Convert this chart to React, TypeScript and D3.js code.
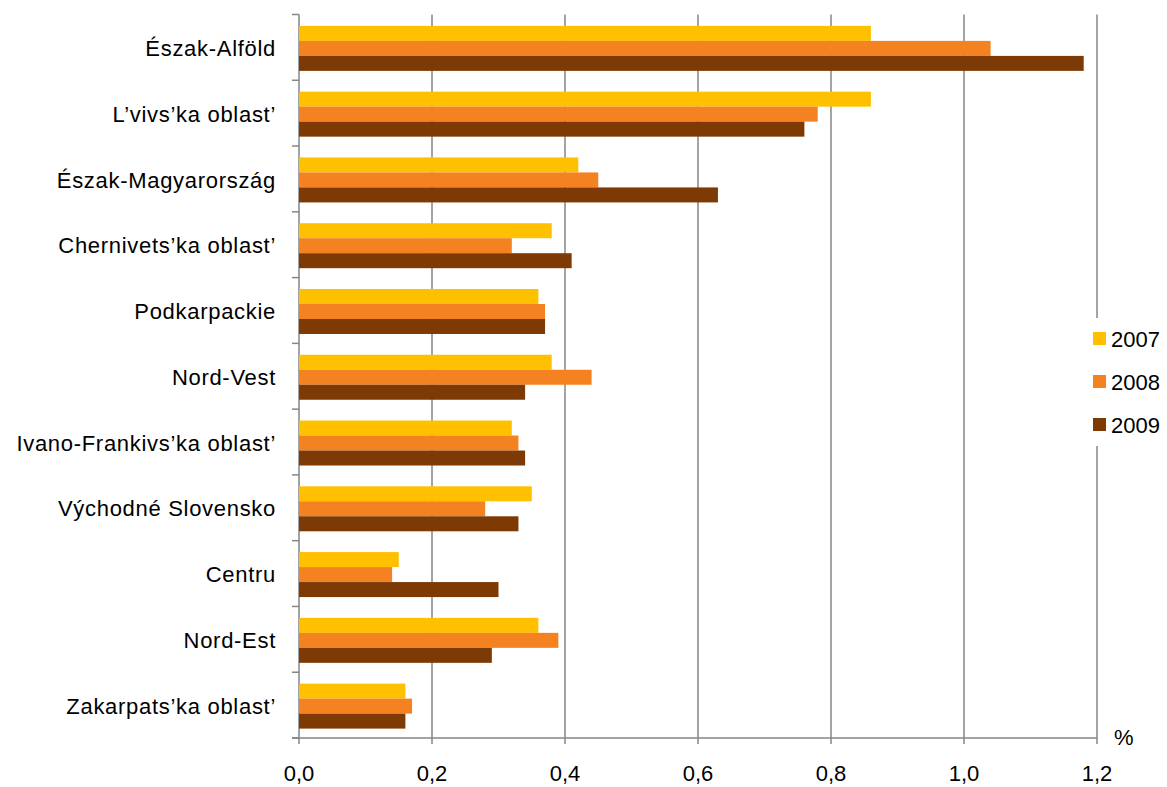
import React from "react";
import * as d3 from "d3";

// Regions, top to bottom
const regions = [
  "Észak-Alföld",
  "L’vivs’ka oblast’",
  "Észak-Magyarország",
  "Chernivets’ka oblast’",
  "Podkarpackie",
  "Nord-Vest",
  "Ivano-Frankivs’ka oblast’",
  "Východné Slovensko",
  "Centru",
  "Nord-Est",
  "Zakarpats’ka oblast’",
];

const years = ["2007", "2008", "2009"];

// Values (%) per region, in the order above
const values2007 = [0.86, 0.86, 0.42, 0.38, 0.36, 0.38, 0.32, 0.35, 0.15, 0.36, 0.16];
const values2008 = [1.04, 0.78, 0.45, 0.32, 0.37, 0.44, 0.33, 0.28, 0.14, 0.39, 0.17];
const values2009 = [1.18, 0.76, 0.63, 0.41, 0.37, 0.34, 0.34, 0.33, 0.30, 0.29, 0.16];

const xTicks = [0, 0.2, 0.4, 0.6, 0.8, 1.0, 1.2];

const seriesColors = ["#FFC000", "#F58220", "#7D3A05"];

const W = 1167;
const H = 787;
const left = 299;
const right = 1097;
const top = 14.5;
const bottom = 738;
const gridColor = "#868686";
const font = "'Liberation Sans', Arial, sans-serif";

export default function App() {
  const series = [values2007, values2008, values2009];

  const x = d3.scaleLinear().domain([0, 1.2]).range([left, right]);
  const yCat = d3
    .scaleBand<string>()
    .domain(regions)
    .range([top, bottom])
    .paddingInner(0.316)
    .paddingOuter(0.158);
  const yYear = d3.scaleBand<string>().domain(years).range([0, yCat.bandwidth()]);
  const step = yCat.step();
  const fmt = (v: number) => d3.format(".1f")(v).replace(".", ",");

  const boundaries = d3.range(regions.length + 1).map((i) => top + i * step);

  return (
    <div style={{ position: "absolute", left: 0, top: 0 }}>
      <svg width={W} height={H} style={{ display: "block", background: "#fff" }}>
        {/* vertical gridlines */}
        {xTicks.map((t) => (
          <line
            key={"g" + t}
            x1={x(t)}
            x2={x(t)}
            y1={top}
            y2={bottom + 6}
            stroke={gridColor}
            strokeWidth={1.5}
          />
        ))}
        {/* category tick marks */}
        {boundaries.map((b, i) => (
          <line key={"t" + i} x1={left - 7} x2={left} y1={b} y2={b} stroke={gridColor} strokeWidth={1.5} />
        ))}
        {/* x axis */}
        <line x1={left - 7} x2={right} y1={bottom} y2={bottom} stroke={gridColor} strokeWidth={1.5} />

        {/* bars */}
        {regions.map((r, i) => (
          <g key={r} transform={`translate(0,${(yCat(r) as number) + 1})`}>
            {years.map((yr, k) => (
              <rect
                key={yr}
                x={x(0)}
                y={yYear(yr)}
                width={x(series[k][i]) - x(0)}
                height={yYear.bandwidth()}
                fill={seriesColors[k]}
              />
            ))}
          </g>
        ))}

        {/* category labels */}
        {regions.map((r) => (
          <text
            key={"l" + r}
            x={276}
            y={(yCat(r) as number) + yCat.bandwidth() / 2 + 1}
            dy="0.35em"
            textAnchor="end"
            fontFamily={font}
            fontSize={22}
            letterSpacing={0.7}
            fill="#000"
          >
            {r}
          </text>
        ))}

        {/* x tick labels */}
        {xTicks.map((t) => (
          <text
            key={"x" + t}
            x={x(t)}
            y={781}
            textAnchor="middle"
            fontFamily={font}
            fontSize={22}
            fill="#000"
          >
            {fmt(t)}
          </text>
        ))}
        <text x={1114} y={745} fontFamily={font} fontSize={22} fill="#000">
          %
        </text>

        {/* legend */}
        <rect x={1088} y={318} width={79} height={128} fill="#fff" />
        {years.map((yr, k) => (
          <g key={"lg" + yr} transform={`translate(1093,${332 + k * 43})`}>
            <rect x={0} y={0} width={13} height={13} fill={seriesColors[k]} />
            <text x={18} y={14.5} fontFamily={font} fontSize={22} fill="#000">
              {yr}
            </text>
          </g>
        ))}
      </svg>
    </div>
  );
}
